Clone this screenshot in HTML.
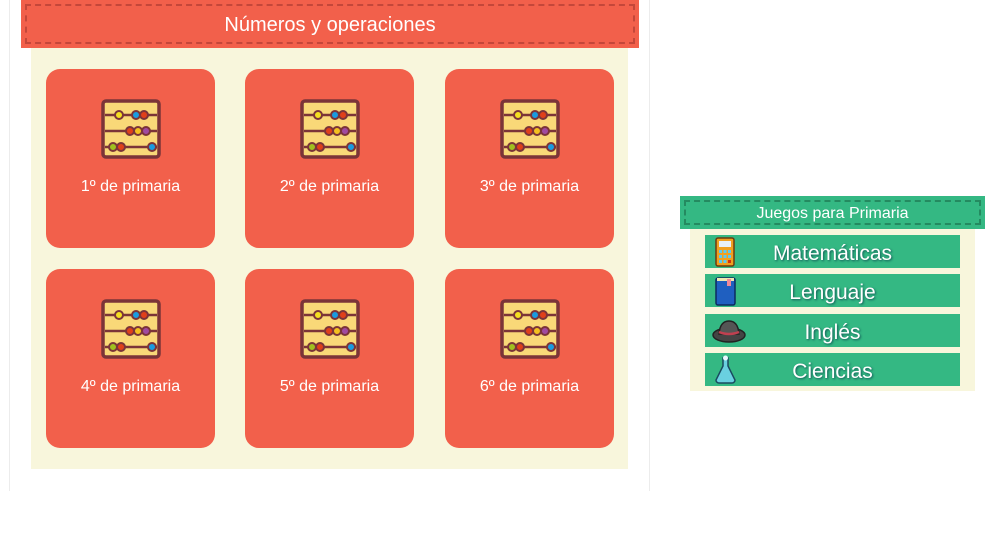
<!DOCTYPE html>
<html><head><meta charset="utf-8"><style>
*{margin:0;padding:0;box-sizing:border-box}
body{width:989px;height:538px;background:#fff;position:relative;overflow:hidden;font-family:"Liberation Sans",sans-serif}
.vl{position:absolute;top:0;width:1px;height:491px;background:#ececec}
.hdr{position:absolute;left:21px;top:0;width:618px;height:48px;background:#f2604b}
.hdr .d{position:absolute;left:4px;top:4px;right:4px;bottom:4px;border:2px dashed #c4473a}
.hdr span{position:absolute;left:0;right:0;top:14px;text-align:center;color:#fff;font-size:20px}
.cream{position:absolute;left:31px;top:48px;width:597px;height:421px;background:#f8f6dc}
.card{position:absolute;width:169px;height:179px;background:#f2604b;border-radius:14px}
.card svg{position:absolute;left:55px;top:30px}
.card span{position:absolute;left:0;right:0;top:109px;text-align:center;color:#fff;font-size:16px}
.gh{position:absolute;left:680px;top:196px;width:305px;height:33px;background:#34b883}
.gh .d{position:absolute;left:4px;top:4px;right:4px;bottom:4px;border:2px dashed #248a60}
.gh span{position:absolute;left:0;right:0;top:9px;text-align:center;color:#fff;font-size:16px}
.gc{position:absolute;left:690px;top:229px;width:285px;height:162px;background:#f8f6dc}
.btn{position:absolute;left:705px;width:255px;height:33px;background:#34b883}
.btn span{position:absolute;left:0;right:0;top:7px;text-align:center;color:#fff;font-size:21px;text-shadow:1px 1px 2px #155}
.btn svg{position:absolute;left:8px;top:2px}
</style></head><body>
<div class="vl" style="left:9px"></div><div class="vl" style="left:649px"></div>
<div class="hdr"><div class="d"></div><span>Números y operaciones</span></div>
<div class="cream"></div>
<svg width="0" height="0" style="position:absolute"><defs><g id="ab">
<rect x="2" y="2" width="56" height="56" rx="3" fill="#f9d878" stroke="#7b3438" stroke-width="3.5"/>
<line x1="4" y1="16" x2="56" y2="16" stroke="#7b3438" stroke-width="2.5"/>
<line x1="4" y1="32" x2="56" y2="32" stroke="#7b3438" stroke-width="2.5"/>
<line x1="4" y1="48" x2="56" y2="48" stroke="#7b3438" stroke-width="2.5"/>
<g stroke="#7b3438" stroke-width="2"><circle cx="18" cy="16" r="4" fill="#f4e020"/><circle cx="35" cy="16" r="4" fill="#1a9be0"/><circle cx="43" cy="16" r="4" fill="#e0401a"/>
<circle cx="29" cy="32" r="4" fill="#e0401a"/><circle cx="37" cy="32" r="4" fill="#f4c020"/><circle cx="45" cy="32" r="4" fill="#a04aa0"/>
<circle cx="12" cy="48" r="4" fill="#a0c020"/><circle cx="20" cy="48" r="4" fill="#e0401a"/><circle cx="51" cy="48" r="4" fill="#1a9be0"/></g></g></defs></svg>
<div class="card" style="left:46px;top:69px"><svg width="60" height="60"><use href="#ab"/></svg><span>1º de primaria</span></div>
<div class="card" style="left:245px;top:69px"><svg width="60" height="60"><use href="#ab"/></svg><span>2º de primaria</span></div>
<div class="card" style="left:445px;top:69px"><svg width="60" height="60"><use href="#ab"/></svg><span>3º de primaria</span></div>
<div class="card" style="left:46px;top:269px"><svg width="60" height="60"><use href="#ab"/></svg><span>4º de primaria</span></div>
<div class="card" style="left:245px;top:269px"><svg width="60" height="60"><use href="#ab"/></svg><span>5º de primaria</span></div>
<div class="card" style="left:445px;top:269px"><svg width="60" height="60"><use href="#ab"/></svg><span>6º de primaria</span></div>

<div class="gh"><div class="d"></div><span>Juegos para Primaria</span></div>
<div class="gc"></div>
<div class="btn" style="top:235px"><svg width="24" height="30"><rect x="3" y="1" width="18" height="28" rx="2" fill="#f0a020" stroke="#6a3a10" stroke-width="1.5"/><rect x="6" y="4" width="12" height="6" fill="#e8f0f8"/><g fill="#5bc8f0"><rect x="6" y="13" width="3" height="3"/><rect x="10.5" y="13" width="3" height="3"/><rect x="15" y="13" width="3" height="3"/><rect x="6" y="18" width="3" height="3"/><rect x="10.5" y="18" width="3" height="3"/><rect x="15" y="18" width="3" height="3"/><rect x="6" y="23" width="3" height="3"/><rect x="10.5" y="23" width="3" height="3"/></g><rect x="15" y="23" width="3" height="3" fill="#d03010"/></svg><span>Matemáticas</span></div>
<div class="btn" style="top:274px"><svg width="24" height="30"><rect x="3" y="2" width="19" height="27" rx="2" fill="#1f5fc0" stroke="#0c2a60" stroke-width="1.5"/><rect x="4" y="2" width="17" height="3" fill="#f0e8b0"/><rect x="14" y="3" width="4" height="7" fill="#f08a9a"/></svg><span>Lenguaje</span></div>
<div class="btn" style="top:314px"><svg width="36" height="30" style="left:6px"><ellipse cx="18" cy="19" rx="16" ry="7" fill="#444" stroke="#222" stroke-width="1.5"/><path d="M8 18 Q9 5 18 5 Q27 5 28 18Z" fill="#555" stroke="#222" stroke-width="1.5"/><path d="M8 16 Q18 20 28 16" stroke="#c04050" stroke-width="2.5" fill="none"/></svg><span>Inglés</span></div>
<div class="btn" style="top:353px"><svg width="24" height="30"><path d="M10 3h5v8l7 14a3 3 0 0 1-3 3H6a3 3 0 0 1-3-3l7-14z" fill="#6ad0e0" stroke="#1a4a60" stroke-width="1.5"/><circle cx="12.5" cy="3" r="2.5" fill="#e8f8ff"/></svg><span>Ciencias</span></div>
</body></html>
